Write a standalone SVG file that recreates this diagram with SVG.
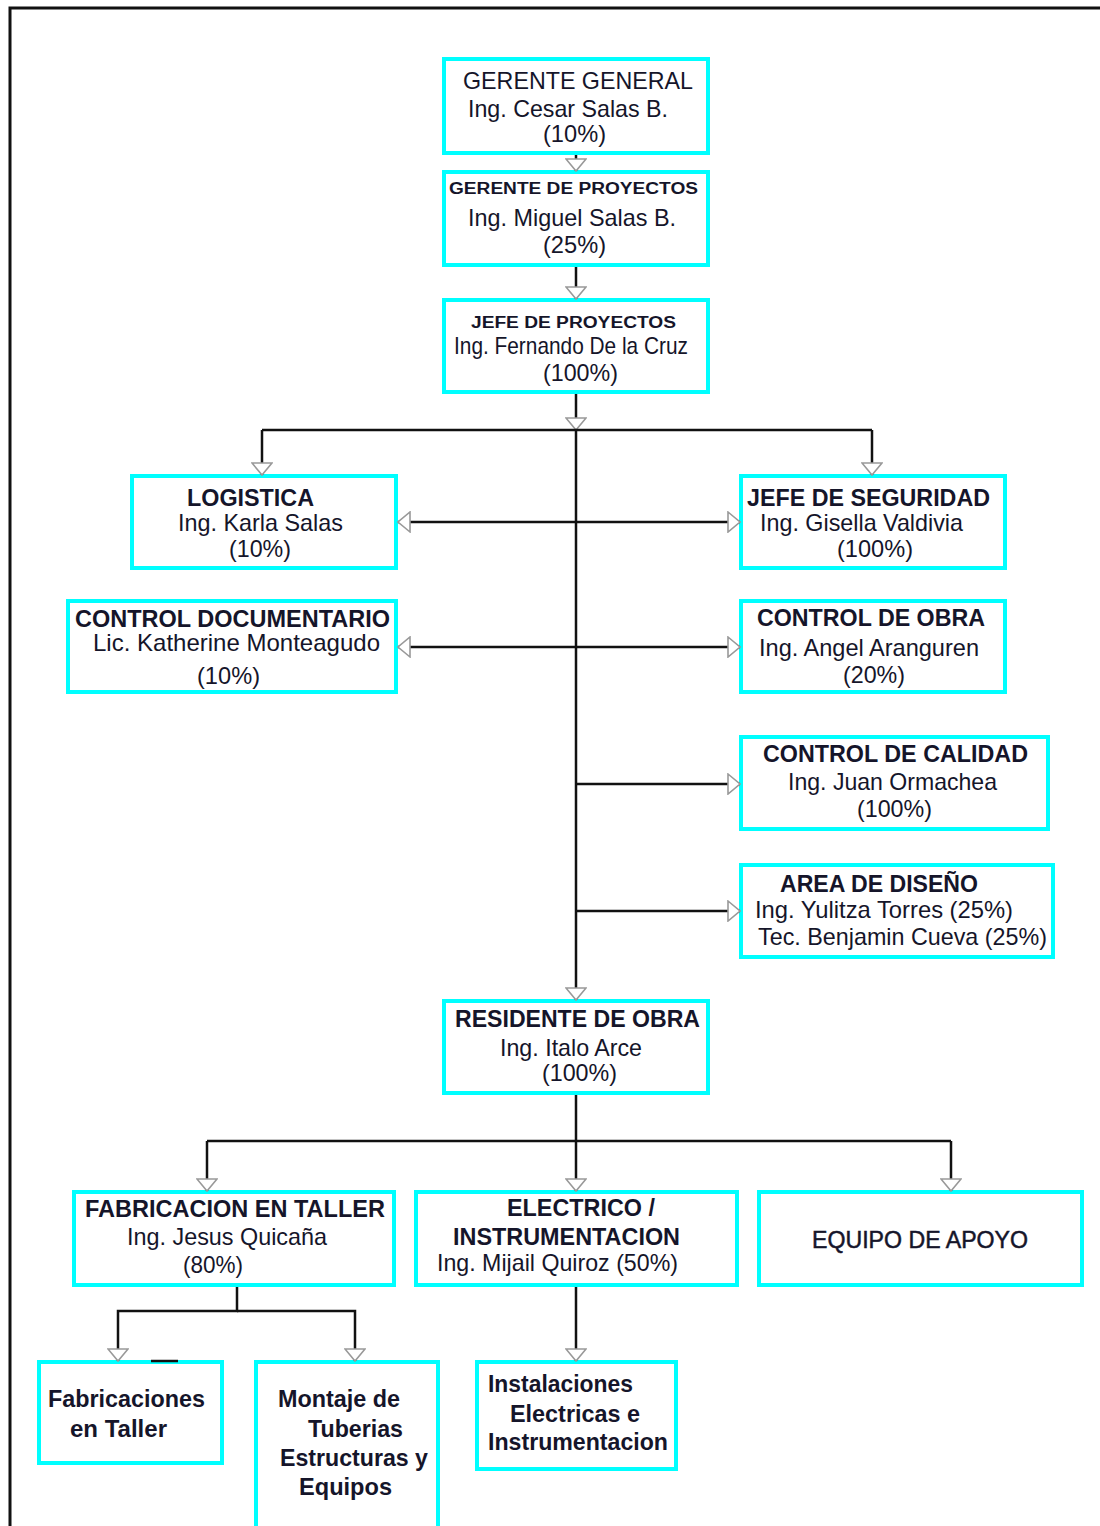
<svg xmlns="http://www.w3.org/2000/svg" width="1100" height="1526" viewBox="0 0 1100 1526">
<style>
.box{fill:#fff;stroke:#00ffff;stroke-width:4}
.t{font-family:"Liberation Sans",Arial,sans-serif;font-size:24px;fill:#15152a}
.b{font-weight:bold}
.s{font-size:16px;font-weight:bold}
.m{stroke:#15152a;stroke-width:0.5}
.c{fill:none;stroke:#111;stroke-width:2.5}
</style>
<defs>
<marker id="ah" viewBox="0 0 14 22" refX="13" refY="11" markerWidth="14" markerHeight="22" markerUnits="userSpaceOnUse" orient="auto-start-reverse">
<path d="M1,1 L13,11 L1,21 Z" fill="#fff" stroke="#999" stroke-width="1.6"/>
</marker>
</defs>
<rect x="0" y="0" width="1100" height="1526" fill="#fff"/>
<path d="M10,1526 V8 H1100" fill="none" stroke="#111" stroke-width="3"/>

<g id="gerente-general">
<rect class="box" x="444" y="59" width="264" height="94"/>
<text class="t" x="463" y="89" textLength="230" lengthAdjust="spacingAndGlyphs">GERENTE GENERAL</text>
<text class="t" x="468" y="117" textLength="200" lengthAdjust="spacingAndGlyphs">Ing. Cesar Salas B.</text>
<text class="t" x="543" y="142" textLength="63" lengthAdjust="spacingAndGlyphs">(10%)</text>
</g>
<g id="gerente-proyectos">
<rect class="box" x="444" y="172" width="264" height="93"/>
<text class="t s" x="449" y="194" textLength="249" lengthAdjust="spacingAndGlyphs">GERENTE DE PROYECTOS</text>
<text class="t" x="468" y="226" textLength="208" lengthAdjust="spacingAndGlyphs">Ing. Miguel Salas B.</text>
<text class="t" x="543" y="253" textLength="63" lengthAdjust="spacingAndGlyphs">(25%)</text>
</g>
<g id="jefe-proyectos">
<rect class="box" x="444" y="300" width="264" height="92"/>
<text class="t s" x="471" y="328" textLength="205" lengthAdjust="spacingAndGlyphs">JEFE DE PROYECTOS</text>
<text class="t" x="454" y="354" textLength="234" lengthAdjust="spacingAndGlyphs">Ing. Fernando De la Cruz</text>
<text class="t" x="543" y="381" textLength="75" lengthAdjust="spacingAndGlyphs">(100%)</text>
</g>
<g id="logistica">
<rect class="box" x="132" y="476" width="264" height="92"/>
<text class="t b" x="187" y="506" textLength="127" lengthAdjust="spacingAndGlyphs">LOGISTICA</text>
<text class="t" x="178" y="531" textLength="165" lengthAdjust="spacingAndGlyphs">Ing. Karla Salas</text>
<text class="t" x="229" y="557" textLength="62" lengthAdjust="spacingAndGlyphs">(10%)</text>
</g>
<g id="jefe-seguridad">
<rect class="box" x="741" y="476" width="264" height="92"/>
<text class="t b" x="747" y="506" textLength="243" lengthAdjust="spacingAndGlyphs">JEFE DE SEGURIDAD</text>
<text class="t" x="760" y="531" textLength="203" lengthAdjust="spacingAndGlyphs">Ing. Gisella Valdivia</text>
<text class="t" x="837" y="557" textLength="76" lengthAdjust="spacingAndGlyphs">(100%)</text>
</g>
<g id="control-documentario">
<rect class="box" x="68" y="601" width="328" height="91"/>
<text class="t b" x="75" y="627" textLength="315" lengthAdjust="spacingAndGlyphs">CONTROL DOCUMENTARIO</text>
<text class="t" x="93" y="651" textLength="287" lengthAdjust="spacingAndGlyphs">Lic.  Katherine Monteagudo</text>
<text class="t" x="197" y="684" textLength="63" lengthAdjust="spacingAndGlyphs">(10%)</text>
</g>
<g id="control-obra">
<rect class="box" x="741" y="601" width="264" height="91"/>
<text class="t b" x="757" y="626" textLength="228" lengthAdjust="spacingAndGlyphs">CONTROL DE OBRA</text>
<text class="t" x="759" y="656" textLength="220" lengthAdjust="spacingAndGlyphs">Ing. Angel Aranguren</text>
<text class="t" x="843" y="683" textLength="62" lengthAdjust="spacingAndGlyphs">(20%)</text>
</g>
<g id="control-calidad">
<rect class="box" x="741" y="737" width="307" height="92"/>
<text class="t b" x="763" y="762" textLength="265" lengthAdjust="spacingAndGlyphs">CONTROL DE CALIDAD</text>
<text class="t" x="788" y="790" textLength="209" lengthAdjust="spacingAndGlyphs">Ing. Juan Ormachea</text>
<text class="t" x="857" y="817" textLength="75" lengthAdjust="spacingAndGlyphs">(100%)</text>
</g>
<g id="area-diseno">
<rect class="box" x="741" y="865" width="312" height="92"/>
<text class="t b" x="780" y="892" textLength="198" lengthAdjust="spacingAndGlyphs">AREA DE DISEÑO</text>
<text class="t" x="755" y="918" textLength="258" lengthAdjust="spacingAndGlyphs">Ing. Yulitza Torres (25%)</text>
<text class="t" x="758" y="945" textLength="289" lengthAdjust="spacingAndGlyphs">Tec. Benjamin Cueva (25%)</text>
</g>
<g id="residente-obra">
<rect class="box" x="444" y="1001" width="264" height="92"/>
<text class="t b" x="455" y="1027" textLength="245" lengthAdjust="spacingAndGlyphs">RESIDENTE DE OBRA</text>
<text class="t" x="500" y="1056" textLength="142" lengthAdjust="spacingAndGlyphs">Ing. Italo Arce</text>
<text class="t" x="542" y="1081" textLength="75" lengthAdjust="spacingAndGlyphs">(100%)</text>
</g>
<g id="fabricacion-taller">
<rect class="box" x="74" y="1192" width="320" height="93"/>
<text class="t b" x="85" y="1217" textLength="300" lengthAdjust="spacingAndGlyphs">FABRICACION EN TALLER</text>
<text class="t" x="127" y="1245" textLength="200" lengthAdjust="spacingAndGlyphs">Ing. Jesus Quicaña</text>
<text class="t" x="183" y="1273" textLength="60" lengthAdjust="spacingAndGlyphs">(80%)</text>
</g>
<g id="electrico">
<rect class="box" x="416" y="1192" width="321" height="93"/>
<text class="t b" x="507" y="1216" textLength="148" lengthAdjust="spacingAndGlyphs">ELECTRICO /</text>
<text class="t b" x="453" y="1245" textLength="227" lengthAdjust="spacingAndGlyphs">INSTRUMENTACION</text>
<text class="t" x="437" y="1271" textLength="241" lengthAdjust="spacingAndGlyphs">Ing. Mijail Quiroz (50%)</text>
</g>
<g id="equipo-apoyo">
<rect class="box" x="759" y="1192" width="323" height="93"/>
<text class="t m" x="812" y="1248" textLength="216" lengthAdjust="spacingAndGlyphs">EQUIPO DE APOYO</text>
</g>
<g id="fabricaciones">
<rect class="box" x="39" y="1362" width="183" height="101"/>
<text class="t b" x="48" y="1407" textLength="157" lengthAdjust="spacingAndGlyphs">Fabricaciones</text>
<text class="t b" x="70" y="1437" textLength="97" lengthAdjust="spacingAndGlyphs">en Taller</text>
</g>
<g id="montaje">
<rect class="box" x="256" y="1362" width="182" height="170"/>
<text class="t b" x="278" y="1407" textLength="122" lengthAdjust="spacingAndGlyphs">Montaje de</text>
<text class="t b" x="308" y="1437" textLength="95" lengthAdjust="spacingAndGlyphs">Tuberias</text>
<text class="t b" x="280" y="1466" textLength="148" lengthAdjust="spacingAndGlyphs">Estructuras y</text>
<text class="t b" x="299" y="1495" textLength="93" lengthAdjust="spacingAndGlyphs">Equipos</text>
</g>
<g id="instalaciones">
<rect class="box" x="477" y="1362" width="199" height="107"/>
<text class="t b" x="488" y="1392" textLength="145" lengthAdjust="spacingAndGlyphs">Instalaciones</text>
<text class="t b" x="510" y="1422" textLength="130" lengthAdjust="spacingAndGlyphs">Electricas e</text>
<text class="t b" x="488" y="1450" textLength="180" lengthAdjust="spacingAndGlyphs">Instrumentacion</text>
</g>

<g id="connectors">
<path class="c" d="M576,155 V171" marker-end="url(#ah)"/>
<path class="c" d="M576,267 V299" marker-end="url(#ah)"/>
<path class="c" d="M576,394 V430" marker-end="url(#ah)"/>
<path class="c" d="M262,430 H872"/>
<path class="c" d="M262,430 V475" marker-end="url(#ah)"/>
<path class="c" d="M872,430 V475" marker-end="url(#ah)"/>
<path class="c" d="M576,430 V1000" marker-end="url(#ah)"/>
<path class="c" d="M398,522 H740" marker-start="url(#ah)" marker-end="url(#ah)"/>
<path class="c" d="M398,647 H740" marker-start="url(#ah)" marker-end="url(#ah)"/>
<path class="c" d="M576,784 H740" marker-end="url(#ah)"/>
<path class="c" d="M576,911 H740" marker-end="url(#ah)"/>
<path class="c" d="M576,1095 V1191" marker-end="url(#ah)"/>
<path class="c" d="M207,1141 H951"/>
<path class="c" d="M207,1141 V1191" marker-end="url(#ah)"/>
<path class="c" d="M951,1141 V1191" marker-end="url(#ah)"/>
<path class="c" d="M237,1287 V1311 H118 V1361" marker-end="url(#ah)"/>
<path class="c" d="M237,1311 H355 V1361" marker-end="url(#ah)"/>
<path class="c" d="M576,1287 V1361" marker-end="url(#ah)"/>
<path class="c" d="M151,1361 H178" stroke-width="3"/>
</g>
</svg>
